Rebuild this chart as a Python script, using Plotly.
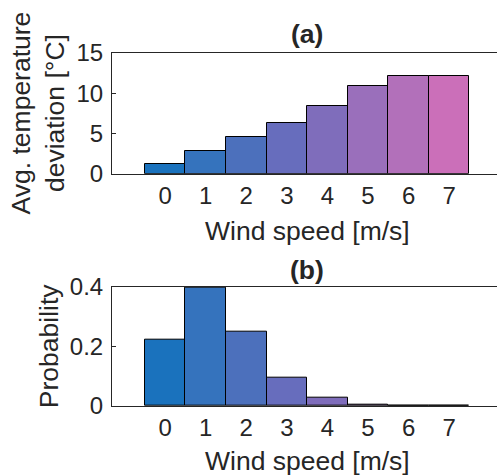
import plotly.graph_objects as go

# ---- data ----
wind_speed = [0, 1, 2, 3, 4, 5, 6, 7]
wind_tick_labels = ["0", "1", "2", "3", "4", "5", "6", "7"]
avg_temp_dev = [1.25, 2.86, 4.6, 6.35, 8.47, 10.88, 12.2, 12.13]
probability = [0.222, 0.395, 0.25, 0.095, 0.028, 0.005, 0.002, 0.001]
bar_colors = ["#1a72bd", "#3573bd", "#4c70bc", "#676dbd",
              "#7f6dbb", "#9a6fbb", "#b270ba", "#cb6fb9"]
temp_ticks = [0, 5, 10, 15]
prob_ticks = [0, 0.2, 0.4]
prob_tick_labels = ["0", "0.2", "0.4"]

FONT = "Liberation Sans, Arial, Helvetica, sans-serif"
INK = "#262626"
TICK_SIZE = 24
LABEL_SIZE = 26.5

fig = go.Figure()
fig.add_trace(go.Bar(
    x=wind_speed, y=avg_temp_dev, width=1,
    marker=dict(color=bar_colors, line=dict(color="#000000", width=1)),
    xaxis="x", yaxis="y", showlegend=False))
fig.add_trace(go.Bar(
    x=wind_speed, y=probability, width=1,
    marker=dict(color=bar_colors, line=dict(color="#000000", width=1)),
    xaxis="x2", yaxis="y2", showlegend=False))

xcommon = dict(range=[-1.31, 8.18], tickvals=wind_speed, ticktext=wind_tick_labels,
               showline=True, linecolor=INK, linewidth=1, mirror=True,
               ticks="", showgrid=False, zeroline=False, ticklabelstandoff=0,
               tickfont=dict(family=FONT, size=TICK_SIZE, color=INK))
ycommon = dict(showline=True, linecolor=INK, linewidth=1, mirror=False,
               ticks="inside", ticklen=4, tickcolor=INK, showgrid=False,
               zeroline=False, ticklabelstandoff=3,
               tickfont=dict(family=FONT, size=TICK_SIZE, color=INK))

fig.update_layout(
    width=497, height=476, autosize=False,
    margin=dict(l=112, r=0, t=53, b=70),
    plot_bgcolor="white", paper_bgcolor="white",
    bargap=0,
    xaxis=dict(domain=[0, 1], anchor="y", **xcommon),
    yaxis=dict(domain=[0.658, 1], anchor="x", range=[0, 15], tickvals=temp_ticks, **ycommon),
    xaxis2=dict(domain=[0, 1], anchor="y2", **xcommon),
    yaxis2=dict(domain=[0, 0.338], anchor="x2", range=[0, 0.4], tickvals=prob_ticks,
                ticktext=prob_tick_labels, **ycommon),
)

lab = dict(family=FONT, size=LABEL_SIZE, color=INK)
ann = [
    dict(text="<b>(a)</b>", xref="x", x=3.5, yref="paper", y=1.055, yanchor="middle",
         showarrow=False, font=lab),
    dict(text="<b>(b)</b>", xref="x", x=3.5, yref="paper", y=0.384, yanchor="middle",
         showarrow=False, font=lab),
    dict(text="Wind speed [m/s]", xref="x", x=3.5, yref="paper", y=0.496, yanchor="middle",
         showarrow=False, font=lab),
    dict(text="Wind speed [m/s]", xref="x2", x=3.5, yref="paper", y=-0.156, yanchor="middle",
         showarrow=False, font=lab),
    dict(text="Avg. temperature<br>deviation [°C]", xref="paper", x=-0.192, xanchor="center",
         yref="paper", y=(1 + 0.658) / 2, yanchor="middle", textangle=-90,
         showarrow=False, font=lab),
    dict(text="Probability", xref="paper", x=-0.164, xanchor="center",
         yref="paper", y=0.338 / 2, yanchor="middle", textangle=-90,
         showarrow=False, font=lab),
]
fig.update_layout(annotations=ann)

fig.write_html(
    "out.html",
    config={"displayModeBar": False},
    post_script="document.body.style.margin='0';document.body.style.overflow='hidden';",
)
